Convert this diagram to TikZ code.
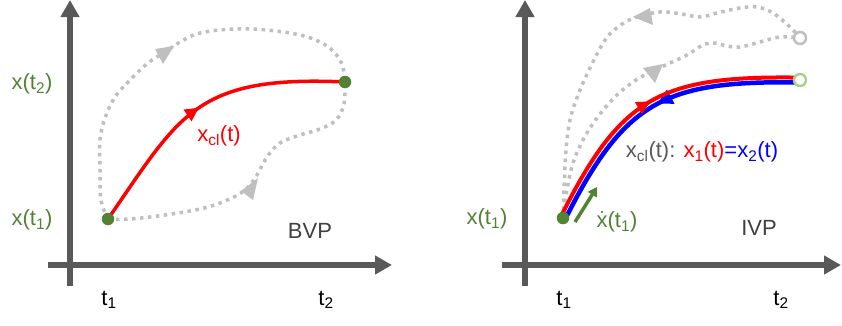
\documentclass[tikz,border=0pt]{standalone}
\usepackage{fontspec}
\setmainfont{Liberation Sans}
\usetikzlibrary{arrows.meta,decorations.markings}
\definecolor{axisgray}{HTML}{595959}
\definecolor{dotgreen}{HTML}{548235}
\definecolor{lightgreen}{HTML}{A9D18E}
\definecolor{trajgray}{HTML}{BFBFBF}
\definecolor{labelgray}{HTML}{404040}
\definecolor{clgray}{HTML}{595959}
\begin{document}
\begin{tikzpicture}[x=1pt,y=-1pt,font=\fontsize{22}{26}\selectfont,
  axis/.style={draw=axisgray,line width=6pt,-{Triangle[length=17pt,width=18pt]}},
  dotted traj/.style={draw=trajgray,line width=3.5pt,dash pattern=on 3.5pt off 4.5pt},
  gray tip/.style={fill=trajgray},
  solid dot/.style={circle,fill=dotgreen,inner sep=0pt,minimum size=12.5pt},
  open dot/.style={circle,draw=#1,fill=white,line width=2.5pt,inner sep=0pt,minimum size=12pt},
  lbl/.style={inner sep=0pt,anchor=center},
  red curve/.style 2 args={draw=red,line width=#2,postaction={decorate},
    decoration={markings,mark=at position #1 with {\arrow[red]{Triangle[length=14pt,width=13pt]}}}},
  blue curve/.style={draw=blue,line width=4.5pt,postaction={decorate},
    decoration={markings,mark=at position #1 with {\arrowreversed[blue]{Triangle[length=15pt,width=15pt]}}}},
  vel arrow/.style={draw=dotgreen,line width=3.5pt,-{Triangle[length=9pt,width=10pt]}}]
\useasboundingbox (0,0) rectangle (842,325);

% ---------- coordinates ----------
\coordinate (ly0) at (70,286);  \coordinate (ly1) at (70,0);
\coordinate (lx0) at (48,265);  \coordinate (lx1) at (392,265);
\coordinate (ry0) at (525,286); \coordinate (ry1) at (525,0);
\coordinate (rx0) at (502,265); \coordinate (rx1) at (841,265);
\coordinate (A) at (108,219);
\coordinate (B) at (345,82);
\coordinate (C) at (563,218);
\coordinate (D) at (800,80);
\coordinate (E) at (800,38);
\coordinate (g1) at (575,222);
\coordinate (g2) at (597,187);

% ---------- axes ----------
\draw[axis] (ly0) -- (ly1);
\draw[axis] (lx0) -- (lx1);
\draw[axis] (ry0) -- (ry1);
\draw[axis] (rx0) -- (rx1);

% ---------- left panel: BVP ----------
\draw[dotted traj] plot[smooth,tension=0.6] coordinates {(A) (101,200) (100,170) (100,140) (105,118) (115,97) (130,80) (148,63) (165,52) (180,42) (200,33) (233,29) (267,30) (300,35) (320,42) (333,51) (342,64) (B)};
\draw[dotted traj] plot[smooth,tension=0.6] coordinates {(A) (130,219) (165,215) (200,209) (225,201) (245,190) (257,175) (267,157) (280,143) (300,135) (320,129) (336,120) (344,104) (B)};
\fill[gray tip] (155,49) -- (174,46) -- (163,64) -- cycle;
\fill[gray tip] (241,191) -- (258,178) -- (253,200) -- cycle;
\draw[red curve={0.49}{3.5pt}] (A) .. controls (180,115) and (195,75) .. (B);
\node[solid dot] (Adot) at (A) {};
\node[solid dot] (Bdot) at (B) {};

\node[lbl,text=dotgreen] (lx2) at (32,84) {x(t\textsubscript{2})};
\node[lbl,text=dotgreen] (lxt1) at (32,220) {x(t\textsubscript{1})};
\node[lbl,text=red] (xcl) at (219,136) {x\textsubscript{cl}(t)};
\node[lbl,text=labelgray] (bvp) at (310,231) {BVP};
\node[lbl] (lt1) at (109,300) {t\textsubscript{1}};
\node[lbl] (lt2) at (326,300) {t\textsubscript{2}};

% ---------- right panel: IVP ----------
\draw[dotted traj] plot[smooth,tension=0.6] coordinates {(C) (564,190) (566,150) (570,120) (578,95) (590,68) (605,40) (618,27) (634,18) (660,12) (682,14) (700,17) (717,13) (740,8) (757,7) (773,13) (790,27) (E)};
\draw[dotted traj] plot[smooth,tension=0.6] coordinates {(C) (566,195) (574,160) (590,128) (612,100) (633,82) (653,71) (670,63) (687,55) (703,45) (715,43) (727,46) (740,47) (760,42) (780,37) (E)};
\fill[gray tip] (633,17) -- (650,8) -- (653,25) -- cycle;
\fill[gray tip] (643,68) -- (663,64) -- (655,83) -- cycle;

\draw[blue curve=0.51] ([shift={(1.6,2.4)}]C) .. controls ([shift={(1.6,2.4)}]623,98) and ([shift={(1.6,2.4)}]663,78) .. ([shift={(0,2.4)}]D);
\draw[red curve={0.49}{4pt}] ([shift={(-1.6,-2.4)}]C) .. controls ([shift={(-1.6,-2.4)}]623,98) and ([shift={(-1.6,-2.4)}]663,78) .. ([shift={(0,-2.4)}]D);

\draw[vel arrow] (g1) -- (g2);
\node[solid dot] (Cdot) at (C) {};
\node[open dot=lightgreen] (Ddot) at (D) {};
\node[open dot=trajgray] (Edot) at (E) {};

\node[lbl,text=dotgreen] (rxt1) at (487,219) {x(t\textsubscript{1})};
\node[lbl,text=dotgreen] (xdot) at (617,222) {\.{x}(t\textsubscript{1})};
\node[lbl] (eq) at (702,152) {\textcolor{clgray}{x\textsubscript{cl}(t):} \textcolor{red}{x\textsubscript{1}(t)}\textcolor{blue}{=x\textsubscript{2}(t)}};
\node[lbl,text=labelgray] (ivp) at (759,228) {IVP};
\node[lbl] (rt1) at (564,300) {t\textsubscript{1}};
\node[lbl] (rt2) at (781,300) {t\textsubscript{2}};
\end{tikzpicture}
\end{document}
